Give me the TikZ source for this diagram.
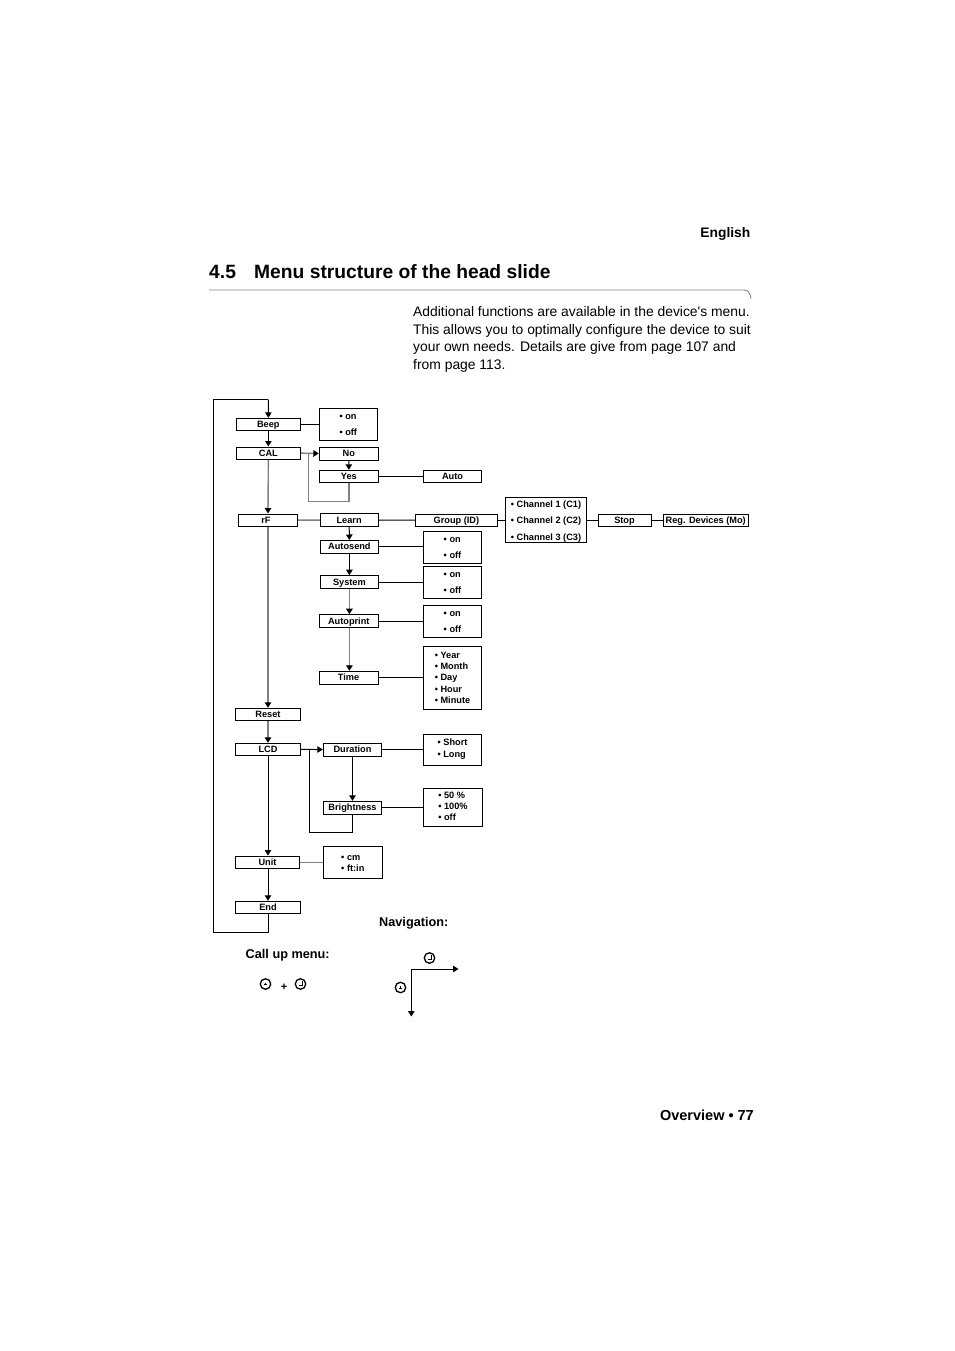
\documentclass[tikz,border=0pt]{standalone}
\usepackage{fontspec}
\setmainfont{Liberation Sans}
\newfontfamily\plainsans{Liberation Sans}
\usetikzlibrary{arrows.meta}
\definecolor{lgray}{gray}{0.5}
\tikzset{
 x=1pt,y=-1pt,
 basebox/.style={draw=black,line width=1pt,inner sep=0pt},
 menubox/.style={basebox,align=center,text height=6.5pt,text depth=0.5pt,font=\fontsize{9.2}{11}\selectfont\bfseries},
 listbox/.style={basebox,align=left,font=\fontsize{9.2}{#1}\selectfont\bfseries},
 link/.style={draw=black,line width=1pt},
 glink/.style={draw=lgray,line width=1.4pt},
 arrowlink/.style={link,-{Triangle[length=5.5pt,width=6.5pt]}},
 garrow/.style={glink,-{Triangle[length=5.5pt,width=6.5pt,color=black]}},
 clockface/.style={draw=black,line width=1.3pt,circle,minimum size=10.5pt,inner sep=0pt},
 clockhand/.style={draw=black,line width=1pt},
 labeltext/.style={inner sep=0pt,font=\fontsize{12.7}{15}\selectfont\bfseries},
}
\newcommand{\bx}[7][menubox]{%
 \pgfmathsetmacro{\cxx}{(#3+#5)/2}\pgfmathsetmacro{\cyy}{(#4+#6)/2}%
 \pgfmathsetmacro{\www}{#5-#3}\pgfmathsetmacro{\hhh}{#6-#4}%
 \node[#1,minimum width=\www pt,minimum height=\hhh pt] (#2) at (\cxx,\cyy) {#7};}
\newcommand{\dn}[1]{\rule[-#1pt]{0pt}{#1pt}}
\newcommand{\up}[1]{\rule{0pt}{#1pt}}
\begin{document}
\begin{tikzpicture}
\useasboundingbox (0,0) rectangle (954,1351);
\fill[white] (0,0) rectangle (954,1351);
% page text
\node[inner sep=0pt,anchor=base east,font=\fontsize{13.8}{16}\selectfont\bfseries] (english) at (750.5,237) {English};
\node[inner sep=0pt,anchor=base west,font=\fontsize{19.25}{22}\selectfont\bfseries] (secnum) at (209,278) {4.5};
\node[inner sep=0pt,anchor=base west,font=\fontsize{19.25}{22}\selectfont\bfseries] (sectitle) at (254,278) {Menu structure of the head slide};
\draw[lgray,line width=0.9pt] (209,290) -- (744,290) .. controls (748,290) and (750,293) .. (751,298.5);
\node[inner sep=0pt,anchor=north west,align=left,font=\plainsans\fontsize{13.87}{17.8}\selectfont] (intro) at (413,306) {Additional functions are available in the device's menu.\\This allows you to optimally configure the device to suit\\your own needs. Details are give from page 107 and\\from page 113.};
\node[inner sep=0pt,anchor=base east,font=\fontsize{14.5}{17}\selectfont\bfseries] (overview) at (754,1120) {Overview • 77};
% boxes
\bx{beep}{236}{418.3}{300.7}{430.7}{Beep}
\bx[listbox=16]{beepopt}{319.3}{408.3}{377.3}{440.7}{\up{7}• on\\• off}
\bx{cal}{236}{447}{300.7}{459.3}{CAL}
\bx{no}{319.3}{447}{378.3}{460}{No}
\bx{yes}{319.3}{470.3}{378.5}{482.7}{Yes}
\bx{auto}{423.3}{470.3}{481.7}{482.7}{Auto}
\bx{rf}{238.3}{514}{297.7}{526.5}{rF\hspace*{4pt}}
\bx{learn}{320.3}{513.5}{378}{526.5}{Learn}
\bx{group}{415.3}{514}{497.5}{526.5}{Group (ID)}
\bx[listbox=16.5]{chan}{505.3}{497.3}{586.7}{542.7}{\up{9.8}• Channel 1 (C1)\\• Channel 2 (C2)\\• Channel 3 (C3)}
\bx{stop}{598}{514}{651}{526.5}{Stop}
\bx{reg}{663}{514}{748.5}{526.5}{Reg. Devices (Mo)}
\bx{autosend}{320.3}{540.5}{378.5}{553.3}{Autosend}
\bx[listbox=16]{asopt}{423.3}{531.3}{481.7}{563.7}{\up{7}• on\\• off}
\bx{system}{320.3}{575.7}{378.5}{588.3}{System}
\bx[listbox=16]{sysopt}{423.3}{566}{481.7}{598.3}{\up{7}• on\\• off}
\bx{autoprint}{319}{614.7}{378.5}{627.3}{Autoprint}
\bx[listbox=16]{apopt}{423.3}{605.3}{481.7}{637.3}{\up{7}• on\\• off}
\bx{time}{319}{671.3}{378}{684}{Time}
\bx[listbox=11.3]{timeopt}{423.3}{646}{481.7}{709.3}{• Year\\• Month\\• Day\\• Hour\\• Minute}
\bx{reset}{235.3}{708.3}{300.7}{720.7}{Reset}
\bx{lcd}{235.3}{743.3}{300.7}{755.3}{LCD}
\bx{duration}{323.3}{743.3}{381.7}{756}{Duration}
\bx[listbox=11.7]{duropt}{423.3}{734.3}{481.7}{765.7}{• Short\\• Long\dn{4}}
\bx{bright}{323.3}{801.3}{381.7}{814.3}{Brightness}
\bx[listbox=11]{brightopt}{423.3}{788.3}{482.7}{826.3}{• 50 \%\\• 100\%\\• off\dn{2}}
\bx{unit}{235.3}{856}{299.7}{868.3}{Unit}
\bx[listbox=11]{unitopt}{323.3}{846.3}{382.3}{878.3}{\up{7.5}• cm\\• ft:in}
\bx{endbox}{235.3}{901.3}{300.7}{913.7}{End}
% free points
\coordinate (looptop) at (213.3,399.5);
\coordinate (loopbot) at (213.3,932.3);
\coordinate (calloop) at (308.3,501.7);
\coordinate (lcdloop) at (309.3,832.3);
% connectors
\draw[link] (endbox.south) |- (loopbot) -- (looptop) -| (268.3,399.5);
\draw[arrowlink] (268.3,399.5) -- (beep.north);
\draw[arrowlink] (beep) -- (cal);
\draw[link] (beep) -- (beepopt.west|-beep);
\draw[garrow] (cal.east) -- (no.west);
\draw[arrowlink] (no) -- (yes);
\draw[link] (yes) -- (auto);
\draw[glink] (yes.south) |- (calloop) -- (calloop|-cal);
\draw[garrow] (cal.south) -- (rf.north);
\draw[glink] (rf) -- (learn);
\draw[link] (learn) -- (group);
\draw[link] (group) -- (chan.west|-group);
\draw[link] (chan.east|-stop) -- (stop);
\draw[link] (stop) -- (reg);
\draw[arrowlink] (learn) -- (autosend);
\draw[arrowlink] (autosend) -- (system);
\draw[garrow] (system) -- (system|-autoprint.north);
\draw[garrow] (autoprint.south-|system) -- (time.north-|system);
\draw[link] (autosend) -- (asopt.west|-autosend);
\draw[link] (system) -- (sysopt.west|-system);
\draw[link] (autoprint) -- (apopt.west|-autoprint);
\draw[link] (time) -- (timeopt.west|-time);
\draw[garrow] (rf.south) -- (reset.north);
\draw[garrow] (reset) -- (lcd);
\draw[arrowlink] (lcd) -- (duration);
\draw[link] (duration) -- (duropt.west|-duration);
\draw[arrowlink] (duration) -- (bright);
\draw[link] (bright) -- (brightopt.west|-bright);
\draw[link] (bright.south) |- (lcdloop) -- (lcdloop|-lcd);
\draw[arrowlink] (lcd) -- (unit.north-|lcd);
\draw[glink,line width=1.1pt] (unit) -- (unitopt.west|-unit);
\draw[arrowlink] (unit.south-|lcd) -- (endbox.north-|lcd);
% labels
\node[labeltext,anchor=base west] (navlabel) at (379,926) {Navigation:};
\node[labeltext,anchor=base west] (calllabel) at (245.5,958) {Call up menu:};
% clocks
\node[clockface] (c1) at (265.5,984) {};
\draw[clockhand] (265.5,982.5) -- (265.5,984.8);
\draw[clockhand] (264.3,984.8) -- (266.7,984.8);
\node[inner sep=0pt,font=\fontsize{11}{13}\selectfont\bfseries] (plus) at (284,987.5) {+};
\node[clockface] (c2) at (300.5,984) {};
\draw[clockhand] (302,980.5) -- (302,985.5) -- (298.5,985.5);
\node[clockface] (c3) at (429.5,958) {};
\draw[clockhand] (431,954.5) -- (431,959.5) -- (427.5,959.5);
\node[clockface] (c4) at (400.5,987.5) {};
\draw[clockhand] (400.5,986) -- (400.5,988.3);
\draw[clockhand] (399.3,988.3) -- (401.7,988.3);
\coordinate (navcorner) at (411.3,969);
\coordinate (navright) at (458.5,969);
\coordinate (navdown) at (411.3,1016.5);
\draw[arrowlink] (navcorner) -- (navright);
\draw[arrowlink] (navcorner) -- (navdown);
\end{tikzpicture}
\end{document}
